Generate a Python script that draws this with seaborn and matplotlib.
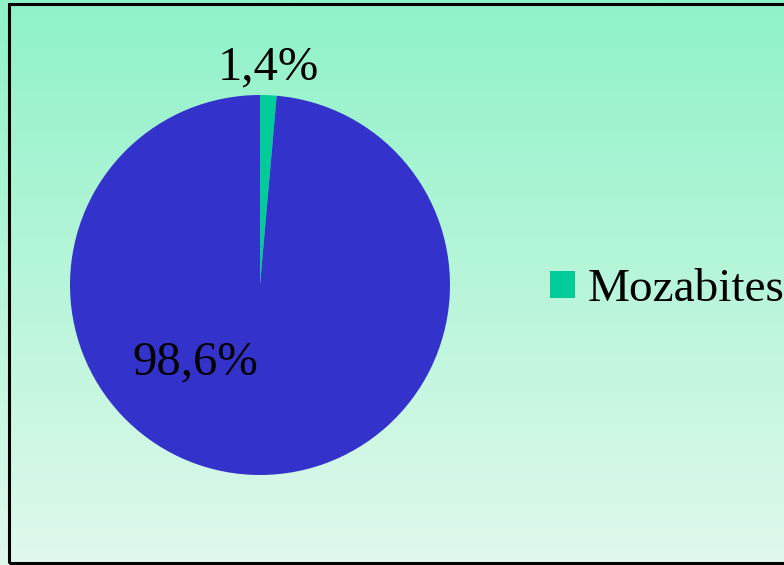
import matplotlib
matplotlib.use("Agg")
import matplotlib.pyplot as plt
from matplotlib.patches import Rectangle, Patch
import numpy as np
import seaborn as sns

# data
categories = ["Mozabites", "Autres"]
shares = [1.4, 98.6]
slice_colors = ["#00CC99", "#3333CC"]

sns.set_theme(style="white")
plt.rcParams['font.family'] = ['Liberation Serif', 'DejaVu Serif']

W, H = 784, 565
fig = plt.figure(figsize=(W / 100, H / 100), dpi=100)

# fond en degrade
bg = fig.add_axes([0, 0, 1, 1])
top = np.array([0x8f, 0xf2, 0xc8]) / 255
bottom = np.array([0xe0, 0xf9, 0xec]) / 255
t = np.linspace(0, 1, 256)[:, None]
grad = top * (1 - t) + bottom * t
bg.imshow(grad[:, None, :].repeat(2, axis=1), aspect='auto', extent=[0, 1, 0, 1])
bg.set_xlim(0, 1)
bg.set_ylim(0, 1)
bg.axis('off')

# cadre
fig.patches.append(Rectangle((9 / W, 2 / H), 1.0, (559) / H, transform=fig.transFigure,
                             fill=False, edgecolor='black', linewidth=2.2))

# camembert
cx, cy, r = 260, 285, 190
ax = fig.add_axes([(cx - r) / W, (H - cy - r) / H, 2 * r / W, 2 * r / H])
wedges, _ = ax.pie(shares, colors=slice_colors, startangle=90, counterclock=False,
                   radius=1, wedgeprops=dict(linewidth=0))
ax.set_xlim(-1, 1)
ax.set_ylim(-1, 1)
ax.set_aspect('equal')
ax.axis('off')

label_pos = [(0.045, 1.145), (-0.34, -0.41)]
for val, (x, y) in zip(shares, label_pos):
    ax.text(x, y, f"{val:.1f}%".replace('.', ','), ha='center', va='center',
            fontsize=35, color='black', clip_on=False)

# legende
handles = [Patch(facecolor=slice_colors[0], edgecolor='none')]
leg = fig.legend(handles, categories[:1], loc='center left', bbox_to_anchor=(550 / W, 1 - 290 / H),
                 frameon=False, fontsize=34, handlelength=0.53, handleheight=0.53,
                 handletextpad=0.27, borderaxespad=0, borderpad=0)
for txt in leg.get_texts():
    txt.set_color('black')

fig.savefig("out.png", dpi=100)
